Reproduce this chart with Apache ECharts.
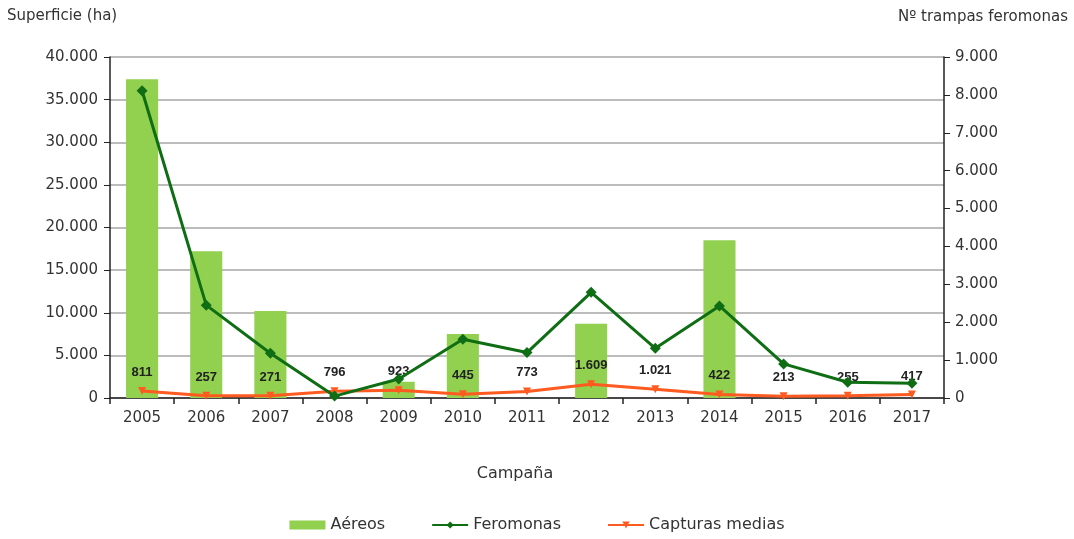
<!DOCTYPE html>
<html>
<head>
<meta charset="utf-8">
<script src="https://cdn.jsdelivr.net/npm/echarts@6/dist/echarts.min.js"></script>
<style>html,body{margin:0;padding:0;background:#fff}#c{width:1074px;height:539px}</style>
</head>
<body>
<div id="c"></div>
<script>
var categories = ['2005','2006','2007','2008','2009','2010','2011','2012','2013','2014','2015','2016','2017'];
var aereos = [37400, 17200, 10200, null, 1900, 7500, null, 8700, null, 18500, null, null, null];
var feromonas = [8110, 2450, 1180, 50, 500, 1550, 1200, 2790, 1310, 2430, 900, 415, 390];
var capturas = [811, 257, 271, 796, 923, 445, 773, 1609, 1021, 422, 213, 255, 417];
var leftTitle = 'Superficie (ha)';
var rightTitle = 'Nº trampas feromonas';
var xTitle = 'Campaña';

function fmt(v){ return String(Math.round(v)).replace(/\B(?=(\d{3})+(?!\d))/g, '.'); }
var FONT = '"DejaVu Sans", Verdana, sans-serif';
var LFONT = '"Liberation Sans", Arial, sans-serif';
var chart = echarts.init(document.getElementById('c'), null, {renderer:'canvas'});
chart.setOption({
  animation:false,
  textStyle:{fontFamily:FONT},
  grid:{left:110, right:130, top:57, bottom:141},
  graphic:[
    {type:'text', left:7, top:9, style:{text:leftTitle, font:'15px '+FONT, fill:'#333'}},
    {type:'text', right:6, top:10, style:{text:rightTitle, font:'15px '+FONT, fill:'#333'}}
  ],
  legend:{
    bottom:1, left:'center', itemGap:46, itemWidth:36, itemHeight:9,
    textStyle:{fontSize:16, color:'#333', fontFamily:FONT},
    data:[
      {name:'Aéreos', icon:'rect'},
      {name:'Feromonas'},
      {name:'Capturas medias'}
    ]
  },
  xAxis:{
    type:'category', data:categories,
    name:xTitle, nameLocation:'middle', nameGap:68,
    nameTextStyle:{fontSize:16, color:'#333', fontFamily:FONT, padding:[0,24,0,0]},
    axisLine:{lineStyle:{color:'#222', width:1.5}},
    axisTick:{show:true, alignWithLabel:false, length:6, lineStyle:{color:'#222', width:1.5}},
    axisLabel:{fontSize:15, color:'#333', margin:13, fontFamily:FONT}
  },
  yAxis:[
    {type:'value', min:0, max:40000, interval:5000,
     axisLine:{show:true, lineStyle:{color:'#222', width:1.5}},
     axisTick:{show:true, length:6, lineStyle:{color:'#222'}},
     axisLabel:{fontSize:15, color:'#333', margin:12, formatter:fmt, fontFamily:FONT},
     splitLine:{show:true, lineStyle:{color:'#a6a6a6', width:1.5}}},
    {type:'value', min:0, max:9000, interval:1000, position:'right',
     axisLine:{show:true, lineStyle:{color:'#222', width:1.5}},
     axisTick:{show:true, length:6, lineStyle:{color:'#222'}},
     axisLabel:{fontSize:15, color:'#333', margin:11, formatter:fmt, fontFamily:FONT},
     splitLine:{show:false}}
  ],
  series:[
    {name:'Aéreos', type:'bar', yAxisIndex:0, data:aereos, barWidth:'50%',
     itemStyle:{color:'#92D050'}, z:1},
    {name:'Capturas medias', type:'line', yAxisIndex:0, data:capturas,
     symbol:'triangle', symbolRotate:180, symbolSize:8, showAllSymbol:true,
     lineStyle:{color:'#FF5A1F', width:3}, itemStyle:{color:'#FF5A1F'}, z:3,
     label:{show:true, position:'top', distance:8, formatter:function(p){return fmt(p.value);},
            fontSize:13, fontWeight:'bold', color:'#222', fontFamily:LFONT}},
    {name:'Feromonas', type:'line', yAxisIndex:1, data:feromonas,
     symbol:'diamond', symbolSize:[11,11], showAllSymbol:true,
     lineStyle:{color:'#0F6E14', width:3}, itemStyle:{color:'#0F6E14'}, z:4}
  ]
});
</script>
</body>
</html>
